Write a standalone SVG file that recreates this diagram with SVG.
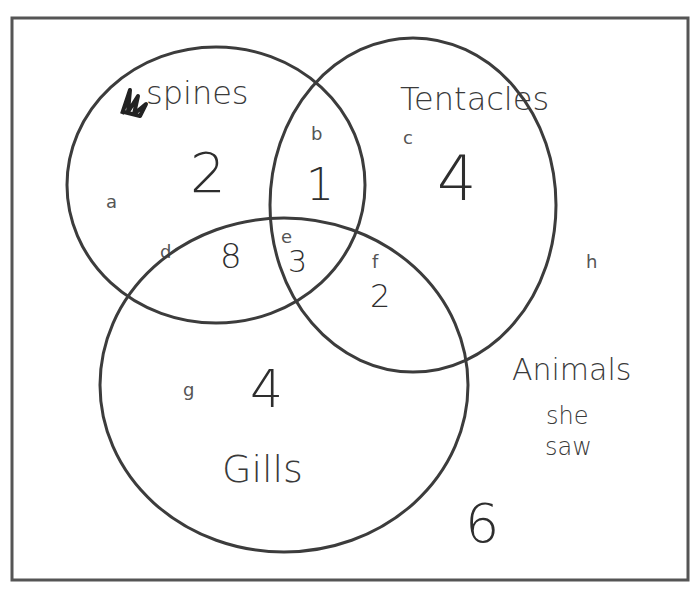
<svg xmlns="http://www.w3.org/2000/svg" width="695" height="590" viewBox="0 0 695 590">
<style>
.frame{fill:none;stroke:#555;stroke-width:3}
.set{fill:none;stroke:#3c3c3c;stroke-width:3}
.lab{font-family:"DejaVu Sans",sans-serif;fill:#3a3a3a;font-weight:300}
.big{font-family:"DejaVu Sans",sans-serif;fill:#2e2e2e;font-weight:300}
.sm{font-family:"DejaVu Sans",sans-serif;fill:#555;font-size:18px}
</style>
<rect width="695" height="590" fill="#fff"/>
<rect class="frame" x="12" y="18" width="676" height="562"/>
<g id="spines">
<ellipse class="set" cx="216" cy="185" rx="149" ry="138"/>
<path d="M122 114 L130 90 L128 112 L138 96 L134 114 L146 104 L140 116 L124 112" stroke="#222" stroke-width="4" fill="none" stroke-linejoin="round"/>
<text class="lab" x="146" y="104" font-size="32">spines</text>
<text class="big" x="190" y="192" font-size="56">2</text>
<text class="sm" x="106" y="208">a</text>
<text class="sm" x="160" y="258">d</text>
<text class="big" x="220" y="268" font-size="34">8</text>
</g>
<g id="tentacles">
<ellipse class="set" cx="413" cy="205" rx="143" ry="167"/>
<text class="lab" x="400" y="110" font-size="32">Tentacles</text>
<text class="big" x="437" y="200" font-size="62">4</text>
<text class="big" x="306" y="200" font-size="44">1</text>
<text class="sm" x="311" y="140">b</text>
<text class="sm" x="403" y="144">c</text>
<text class="sm" x="372" y="268">f</text>
<text class="big" x="370" y="307" font-size="32">2</text>
</g>
<g id="gills">
<ellipse class="set" cx="284" cy="385" rx="184" ry="167"/>
<text class="sm" x="281" y="243">e</text>
<text class="big" x="288" y="272" font-size="30">3</text>
<text class="sm" x="183" y="396">g</text>
<text class="big" x="250" y="407" font-size="52">4</text>
<text class="lab" x="222" y="482" font-size="38">Gills</text>
</g>
<g id="universe">
<text class="sm" x="586" y="268">h</text>
<text class="lab" x="512" y="380" font-size="30">Animals</text>
<text class="lab" x="546" y="424" font-size="24">she</text>
<text class="lab" x="545" y="455" font-size="24">saw</text>
<text class="big" x="465" y="542" font-size="54">6</text>
</g>
<g id="connectors"></g>
</svg>
